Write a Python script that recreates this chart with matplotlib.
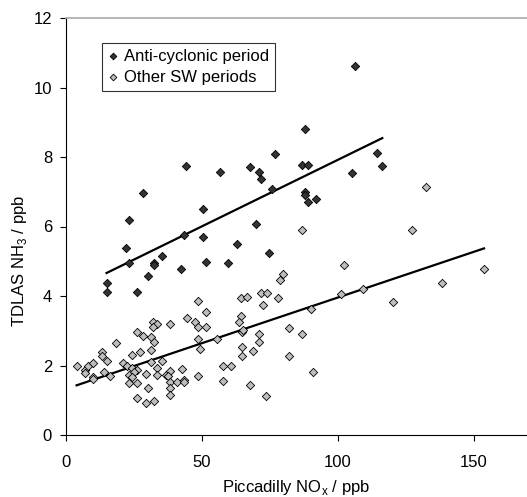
import numpy as np
import matplotlib
matplotlib.use("Agg")
import matplotlib.pyplot as plt

plt.rcParams['font.family'] = ['Liberation Sans', 'DejaVu Sans']

# anti-cyclonic period (dark diamonds)
anti_nox = [14.9, 15.0, 22.1, 23.2, 23.2, 26.0, 28.4, 30.3, 32.4, 32.4, 35.4, 42.3,
            43.4, 44.1, 50.5, 50.5, 51.5, 56.6, 59.7, 62.7, 67.6, 69.7, 70.8, 71.7,
            74.8, 75.6, 76.8, 86.9, 88.8, 87.9, 87.9, 87.9, 88.8, 91.8, 105.1, 106.3,
            114.2, 116.3]
anti_nh3 = [4.38, 4.12, 5.39, 6.19, 4.96, 4.12, 6.95, 4.58, 4.96, 4.89, 5.16, 4.77,
            5.76, 7.75, 6.49, 5.71, 4.97, 7.57, 4.96, 5.49, 7.72, 6.07, 7.57, 7.36,
            5.23, 7.08, 8.10, 7.76, 7.76, 8.80, 7.00, 6.90, 6.71, 6.79, 7.53, 10.63,
            8.11, 7.75]

# other SW periods (light diamonds)
other_nox = [3.9, 7.0, 7.0, 8.2, 10.0, 10.0, 10.0, 13.1, 13.1, 14.1, 15.0, 16.2, 18.3,
             21.1, 22.3, 24.2, 26.2, 25.0, 23.2, 24.2, 23.2, 26.2, 24.2, 27.2, 26.2,
             28.4, 31.1, 32.4, 31.3, 31.1, 35.4, 29.3, 33.3, 33.3, 36.8, 38.2, 37.6,
             38.2, 40.7, 43.4, 43.4, 42.5, 38.2, 38.2, 30.3, 26.2, 29.3, 32.4,
             32.1, 33.3, 32.1, 38.2, 44.4, 47.4, 48.4, 51.5, 48.4, 51.5, 48.4, 49.3,
             55.4, 48.4, 57.6, 60.6, 57.6,
             64.3, 66.7, 71.6, 73.8, 72.5, 77.8, 64.3, 63.6, 64.6, 65.2, 64.6, 64.6,
             68.6, 71.1, 71.1, 67.6, 73.6,
             78.7, 79.7, 81.9, 86.8, 81.9, 90.9, 90.0, 86.8, 101.0, 102.1, 109.1,
             120.1, 127.2, 132.4, 138.4, 153.7]
other_nh3 = [1.99, 1.87, 1.78, 1.99, 2.08, 1.68, 1.60, 2.40, 2.28, 1.82, 2.12, 1.71, 2.64,
             2.06, 1.99, 1.92, 1.87, 1.82, 1.73, 1.68, 1.49, 1.50, 2.30, 2.40, 2.96,
             2.85, 2.81, 2.69, 2.45, 2.11, 2.13, 1.76, 1.92, 1.73, 1.73, 1.85, 1.71,
             1.53, 1.53, 1.58, 1.53, 1.90, 1.34, 1.15, 1.34, 1.06, 0.91, 0.98,
             3.26, 3.19, 3.10, 3.19, 3.38, 3.26, 3.12, 3.10, 3.86, 3.55, 2.76, 2.47,
             2.76, 1.71, 1.99, 1.99, 1.55,
             3.93, 3.98, 4.08, 4.08, 3.73, 3.94, 3.42, 3.26, 2.97, 3.02, 2.53, 2.28,
             2.43, 2.92, 2.69, 1.44, 1.12,
             4.46, 4.63, 3.07, 2.92, 2.28, 1.80, 3.64, 5.90, 4.05, 4.89, 4.19,
             3.84, 5.90, 7.15, 4.36, 4.77]

x_ticks = [0, 50, 100, 150]
y_ticks = [0, 2, 4, 6, 8, 10, 12]


def add_trend(ax, x, y):
    x = np.asarray(x)
    m, c = np.polyfit(x, np.asarray(y), 1)
    xs = np.array([x.min(), x.max()])
    ax.plot(xs, m * xs + c, color="black", lw=1.6, zorder=3)


fig = plt.figure(figsize=(5.27, 4.97), dpi=100)
ax = fig.add_axes([66 / 527, 62 / 497, 461 / 527, 417 / 497])

ax.scatter(anti_nox, anti_nh3, marker="D", s=18, facecolor="#333333",
           edgecolor="black", linewidths=0.6, label="Anti-cyclonic period", zorder=4)
ax.scatter(other_nox, other_nh3, marker="D", s=18, facecolor="#BDBDBD",
           edgecolor="black", linewidths=0.6, label="Other SW periods", zorder=4)
add_trend(ax, anti_nox, anti_nh3)
add_trend(ax, other_nox, other_nh3)

ax.set_xlim(0, 169.5)
ax.set_ylim(0, 12)
ax.set_xticks(x_ticks)
ax.set_yticks(y_ticks)
ax.tick_params(direction="out", length=4, width=0.8, labelsize=12)
ax.tick_params(axis="x", pad=10.5)
ax.tick_params(axis="y", pad=6)
ax.spines["right"].set_visible(False)
ax.spines["top"].set_color("#A8A8A8")
ax.spines["top"].set_linewidth(1.2)

ax.set_xlabel("Piccadilly NO$_\\mathregular{x}$ / ppb", fontsize=12)
ax.set_ylabel("TDLAS NH$_\\mathregular{3}$ / ppb", fontsize=12)
ax.xaxis.set_label_coords(0.5, -0.104)
ax.yaxis.set_label_coords(-0.081, 0.417)

leg = ax.legend(loc="upper left", bbox_to_anchor=(102 / 527, 1 - 43 / 497),
                bbox_transform=fig.transFigure, fontsize=12, frameon=True,
                fancybox=False, edgecolor="black", handlelength=0.6,
                handletextpad=0.4, borderpad=0.35, labelspacing=0.35,
                borderaxespad=0, markerscale=0.8)
leg.get_frame().set_linewidth(0.8)

fig.savefig("out.png", dpi=100)
